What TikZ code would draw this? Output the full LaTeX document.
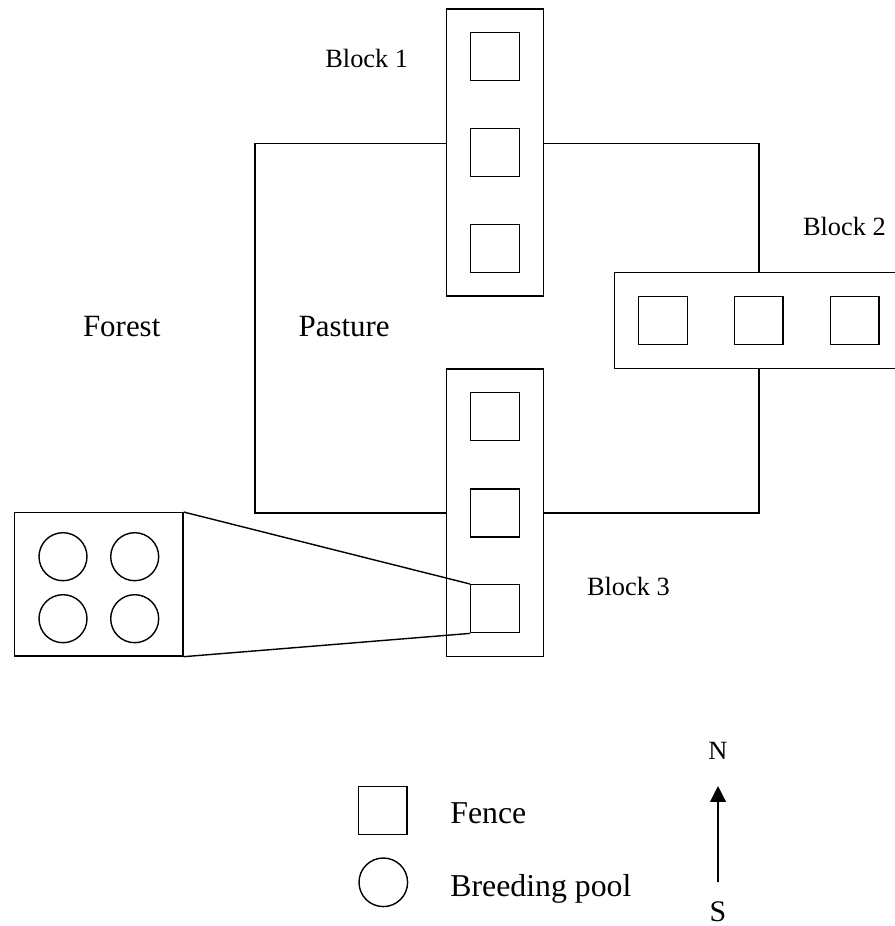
\documentclass[tikz,border=0pt]{standalone}
\usepackage{fontspec}
\setmainfont{Liberation Serif}
\usetikzlibrary{arrows.meta}
\definecolor{ink}{HTML}{000000}
\definecolor{paper}{HTML}{FFFFFF}
\tikzset{
  base/.style={draw=ink, line width=0.8pt, line join=miter},
  blockbox/.style={base, fill=paper, rectangle, inner sep=0pt},
  fencebox/.style={base, fill=paper, rectangle, inner sep=0pt, minimum width=0.97cm, minimum height=0.96cm},
  pool/.style={base, circle, inner sep=0pt, minimum size=0.96cm},
  lab/.style={text=ink, inner sep=0pt, anchor=base west, font=\fontsize{17.6}{20}\selectfont},
  labs/.style={text=ink, inner sep=0pt, anchor=base west, font=\fontsize{15}{18}\selectfont},
  labl/.style={text=ink, inner sep=0pt, anchor=base west, font=\fontsize{18.1}{21}\selectfont},
}
\begin{document}
\begin{tikzpicture}[x=0.02cm,y=-0.02cm]
  \useasboundingbox (0,0) rectangle (894,926);

  % pasture
  \draw[base] (255,143.5) rectangle (759,513);

  % blocks with fences
  \node[blockbox, minimum width=1.932cm, minimum height=5.74cm] (blk1) at (495,152.5) {};
  \node[blockbox, minimum width=5.766cm, minimum height=1.912cm] (blk2) at (758.8,320.5) {};
  \node[blockbox, minimum width=1.932cm, minimum height=5.754cm] (blk3) at (495,512.85) {};
  \foreach \i/\y in {1/56.5,2/152.5,3/248.3}{
    \node[fencebox] (bafence\i) at (495,\y) {};
  }
  \foreach \i/\x in {1/663,2/758.8,3/854.8}{
    \node[fencebox] (bbfence\i) at (\x,320.7) {};
  }
  \foreach \i/\y in {1/416.7,2/512.85,3/608.7}{
    \node[fencebox] (bcfence\i) at (495,\y) {};
  }

  % close-up of one fence
  \node[base, rectangle, inner sep=0pt, minimum width=3.366cm, minimum height=2.866cm] (inset) at (98.85,584.35) {};
  \foreach \i/\x/\y in {1/63/556.7,2/134.7/556.7,3/63/618.7,4/134.7/618.7}{
    \node[pool] (pool\i) at (\x,\y) {};
  }
  \draw[base] (inset.north east) -- (bcfence3.north west);
  \draw[base] (inset.south east) -- (bcfence3.south west);

  % labels
  \node[labs] (lblk1) at (325,67.3) {Block 1};
  \node[labs] (lblk2) at (802.7,235) {Block 2};
  \node[labs] (lblk3) at (586.7,595) {Block 3};
  \node[lab] (lforest) at (82.7,336.7) {Forest};
  \node[lab] (lpasture) at (298.3,336.7) {Pasture};

  % legend
  \node[fencebox] (keyfence) at (382.8,810.2) {};
  \node[pool, minimum size=0.972cm] (keypool) at (383.3,882.3) {};
  \node[labl] (lfence) at (450,823.3) {Fence};
  \node[labl] (lpool) at (450,896) {Breeding pool};

  % north arrow
  \node[text=ink, inner sep=0pt, anchor=base, font=\fontsize{15}{18}\selectfont] (north) at (718,759.3) {N};
  \node[text=ink, inner sep=0pt, anchor=north, font=\fontsize{17}{20}\selectfont] (south) at (718,901.7) {S};
  \draw[base, -{Triangle[width=9pt,length=9pt]}, shorten <=0.4cm, shorten >=0.528cm] (south.north) -- (north.south);
\end{tikzpicture}
\end{document}
